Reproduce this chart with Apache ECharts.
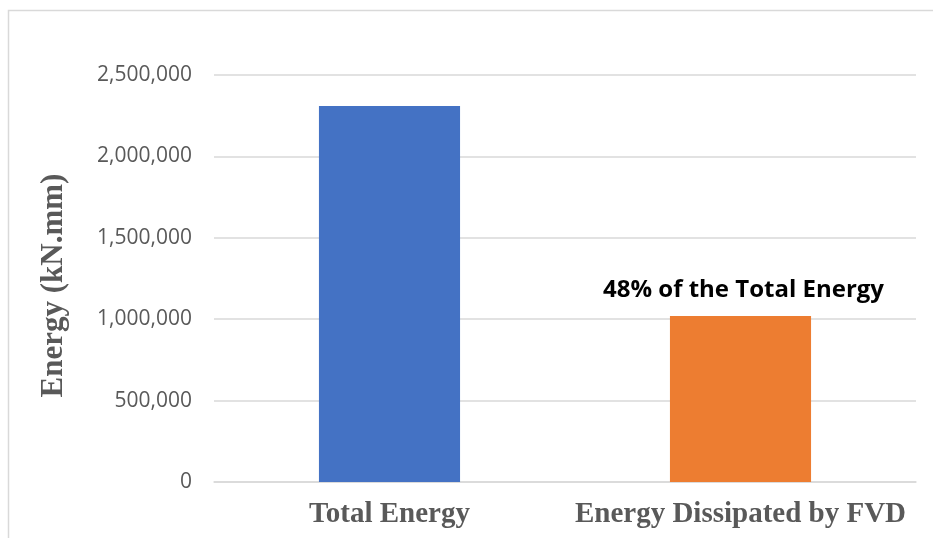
<!DOCTYPE html>
<html>
<head>
<meta charset="utf-8">
<script src="https://cdn.jsdelivr.net/npm/echarts@6/dist/echarts.min.js"></script>
<style>
  html, body { margin: 0; padding: 0; background: #ffffff; }
  #chart { width: 933px; height: 538px; }
</style>
</head>
<body>
<div id="chart"></div>
<script>
// Energy balance: total input energy vs. energy dissipated by the fluid viscous dampers
const categories = ['Total Energy', 'Energy Dissipated by FVD'];
const energyValues = [2310000, 1020000];
const barColors = ['#4472C4', '#ED7D31'];
const annotationText = ['', '48% of the Total Energy'];
const yTicks = { min: 0, max: 2500000, interval: 500000 };

const chart = echarts.init(document.getElementById('chart'));

chart.setOption({
  animation: false,
  backgroundColor: '#ffffff',
  graphic: [{
    type: 'rect',
    shape: { x: 8.5, y: 10.5, width: 1200, height: 1200 },
    style: { fill: 'none', stroke: '#d9d9d9', lineWidth: 1.5 },
    silent: true
  }],
  grid: { left: 214, right: 17, top: 75, bottom: 56 },
  xAxis: {
    type: 'category',
    data: categories,
    axisTick: { show: false },
    axisLine: { lineStyle: { color: '#d9d9d9', width: 1.5 } },
    axisLabel: {
      interval: 0,
      hideOverlap: false,
      margin: 18,
      color: '#595959',
      fontFamily: 'Liberation Serif',
      fontWeight: 'bold',
      fontSize: 29
    }
  },
  yAxis: {
    type: 'value',
    min: yTicks.min,
    max: yTicks.max,
    interval: yTicks.interval,
    name: 'Energy (kN.mm)',
    nameLocation: 'middle',
    nameGap: 145,
    nameTextStyle: {
      color: '#595959',
      fontFamily: 'Liberation Serif',
      fontWeight: 'bold',
      fontSize: 31,
      padding: [0, 14, 0, 0]
    },
    axisLine: { show: false },
    axisTick: { show: false },
    splitLine: { lineStyle: { color: '#d9d9d9', width: 1.5 } },
    axisLabel: {
      margin: 22,
      color: '#595959',
      fontFamily: 'Open Sans',
      fontSize: 21,
      formatter: v => v.toLocaleString('en-US')
    }
  },
  series: [{
    type: 'bar',
    barWidth: '40.2%',
    data: energyValues.map((v, i) => ({
      value: v,
      itemStyle: { color: barColors[i] },
      label: {
        show: annotationText[i] !== '',
        position: 'top',
        distance: 14,
        offset: [3, 0],
        formatter: annotationText[i],
        color: '#000000',
        fontFamily: 'Open Sans',
        fontWeight: 'bold',
        fontSize: 24
      }
    }))
  }]
});
</script>
</body>
</html>
